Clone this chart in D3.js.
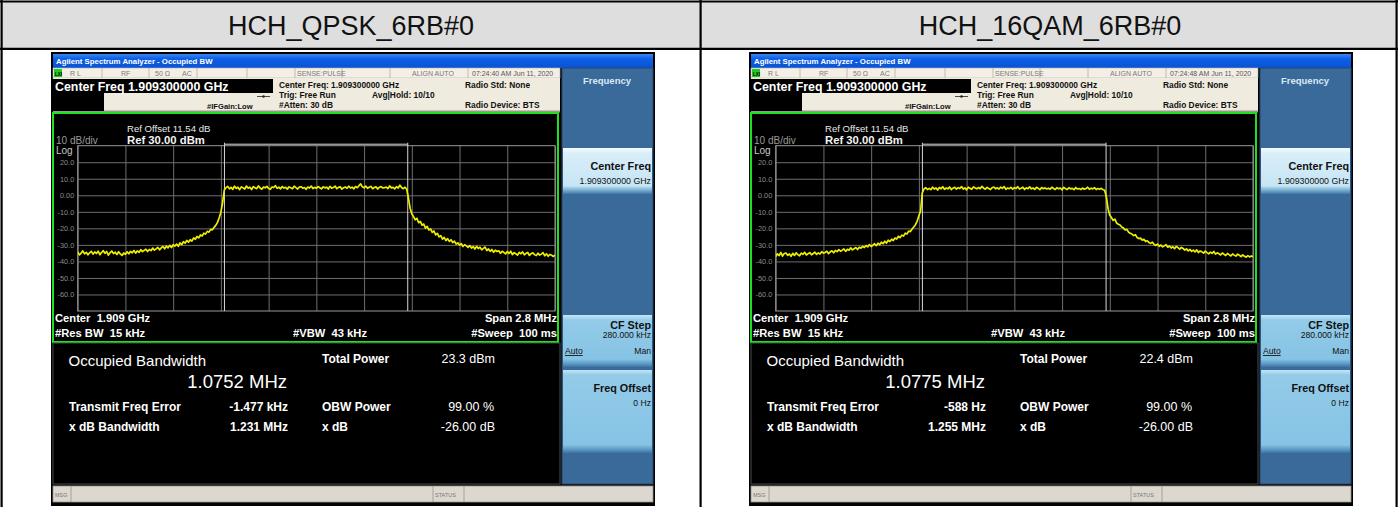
<!DOCTYPE html>
<html><head><meta charset="utf-8">
<script src="https://cdn.jsdelivr.net/npm/d3@7"></script>
<style>
html,body{margin:0;padding:0;background:#fff;overflow:hidden}
svg{display:block;font-family:"Liberation Sans",Arial,Helvetica,sans-serif}
</style></head><body>
<svg id="c" width="1398" height="507"></svg>
<script>
// ---------------- data ----------------
const panelTitles = ["HCH_QPSK_6RB#0", "HCH_16QAM_6RB#0"];
const timestamps = ["07:24:40 AM Jun 11, 2020", "07:24:48 AM Jun 11, 2020"];
const occBWText = ["1.0752 MHz", "1.0775 MHz"];
const occBWMHz = [1.0752, 1.0775];
const totalPowerText = ["23.3 dBm", "22.4 dBm"];
const freqErrorText = ["-1.477 kHz", "-588 Hz"];
const freqErrorMHz = [-0.001477, -0.000588];
const xdBBandwidthText = ["1.231 MHz", "1.255 MHz"];
const obwPowerText = "99.00 %";
const xdBText = "-26.00 dB";
const yTicks = [20, 10, 0, -10, -20, -30, -40, -50, -60];
const yTickLabels = ["20.0", "10.0", "0.00", "-10.0", "-20.0", "-30.0", "-40.0", "-50.0", "-60.0"];
const xGridMHz = [-1.4, -1.12, -0.84, -0.56, -0.28, 0, 0.28, 0.56, 0.84, 1.12, 1.4];
const refLevel = 30, bottomLevel = -70;
const sweepStartMHz = -1.4, sweepStepMHz = 0.01;

// trace levels (dBm) read every 0.01 MHz from -1.40 to +1.40 MHz
const traceQPSK = [
 -34.2,-36.1,-35.0,-33.6,-35.4,-34.5,-36.0,-34.8,-33.9,-35.6,
 -34.3,-35.2,-33.8,-35.9,-34.6,-33.5,-35.1,-34.0,-36.2,-34.7,
 -33.7,-35.3,-34.4,-35.8,-34.1,-35.5,-36.4,-34.9,-35.7,-34.2,
 -35.4,-33.9,-34.8,-33.4,-35.0,-33.6,-34.5,-32.9,-34.1,-33.3,
 -32.6,-34.0,-32.8,-33.5,-31.9,-33.2,-32.4,-31.5,-33.0,-31.8,
 -31.0,-32.4,-30.7,-31.8,-30.3,-31.6,-29.9,-30.8,-29.5,-30.9,
 -28.8,-29.9,-28.1,-29.0,-27.3,-28.4,-26.9,-27.7,-25.8,-26.6,
 -24.9,-25.8,-24.0,-24.6,-22.9,-23.5,-21.8,-22.3,-20.6,-20.9,
 -19.4,-18.2,-16.4,-13.6,-10.2,-4.5,3.2,4.6,5.4,3.9,
 4.8,3.6,5.5,4.2,4.9,3.4,5.1,4.5,3.8,5.6,
 4.3,4.9,3.5,5.2,4.6,4.0,5.7,4.4,3.7,5.0,
 4.5,5.4,4.1,3.6,5.0,4.7,5.8,4.2,4.9,3.9,
 5.3,4.4,4.8,3.7,5.1,4.5,4.0,5.5,4.6,3.8,
 4.9,5.2,4.3,4.7,3.6,5.0,4.4,5.6,4.1,4.8,
 4.2,5.3,4.6,3.9,5.1,4.5,4.9,3.8,5.4,4.3,
 4.7,5.6,4.0,4.8,5.2,3.7,4.6,5.0,4.3,5.5,
 4.4,4.9,3.9,5.3,4.6,5.8,6.9,5.1,4.5,5.6,
 4.2,4.8,5.4,4.0,4.7,5.1,3.8,4.9,5.3,4.4,
 4.6,5.0,4.1,5.7,4.5,4.8,3.9,5.2,4.4,6.1,
 4.7,4.0,4.9,3.6,-1.5,-7.8,-11.2,-12.9,-14.8,-13.9,
 -16.6,-15.8,-18.1,-17.4,-19.9,-18.8,-21.0,-20.3,-22.5,-21.6,
 -23.9,-23.0,-25.2,-24.4,-26.5,-25.5,-27.4,-26.2,-27.9,-26.9,
 -28.6,-27.7,-29.5,-28.8,-30.1,-29.2,-31.0,-29.9,-30.6,-31.5,
 -30.4,-31.9,-31.0,-32.5,-30.9,-32.2,-31.4,-33.0,-32.1,-31.3,
 -33.4,-32.5,-33.9,-32.8,-34.5,-33.2,-34.0,-33.6,-35.1,-33.9,
 -34.6,-35.5,-34.0,-35.2,-33.8,-35.9,-34.7,-35.3,-36.2,-34.5,
 -35.4,-34.2,-36.0,-35.1,-34.6,-36.4,-35.3,-34.8,-35.9,-36.5,
 -35.0,-36.2,-35.6,-34.7,-36.6,-35.4,-36.9,-35.8,-36.3,-37.0,
 -36.2
];
const trace16QAM = [
 -37.0,-35.4,-36.5,-34.6,-36.8,-35.2,-34.9,-36.3,-35.5,-36.9,
 -35.1,-36.4,-34.8,-35.9,-36.6,-35.0,-35.7,-34.5,-36.1,-35.3,
 -34.7,-36.0,-35.2,-34.4,-35.8,-34.9,-35.5,-34.1,-35.0,-34.6,
 -33.9,-35.3,-34.2,-33.6,-34.8,-33.4,-34.1,-32.9,-33.8,-33.2,
 -32.5,-33.9,-32.7,-33.3,-31.8,-33.0,-32.3,-31.6,-32.8,-31.4,
 -32.0,-30.9,-31.6,-30.4,-31.2,-29.8,-31.0,-30.2,-29.3,-30.5,
 -29.0,-29.9,-28.4,-29.3,-27.8,-28.9,-27.2,-28.0,-26.6,-27.4,
 -25.9,-26.5,-24.8,-25.6,-24.1,-24.7,-22.9,-23.4,-21.7,-22.0,
 -20.4,-19.2,-17.8,-15.6,-12.4,-9.5,1.5,3.8,4.6,3.5,
 4.2,3.4,4.9,3.8,4.5,3.2,4.7,4.0,5.2,3.6,
 4.4,3.9,5.0,3.5,4.3,4.8,3.7,4.6,4.1,5.3,
 3.8,4.5,3.3,4.9,4.2,3.6,5.1,4.4,3.9,4.7,
 4.0,5.4,4.3,3.7,4.8,4.1,3.5,4.6,5.0,3.9,
 4.5,3.8,4.9,4.2,5.3,3.6,4.4,4.0,4.8,3.7,
 4.6,4.1,5.2,3.8,4.3,4.9,3.5,4.5,4.0,5.1,
 3.9,4.4,3.6,4.8,4.2,3.4,4.7,4.0,4.5,3.8,
 4.3,3.7,4.9,4.1,3.5,4.6,3.9,4.4,3.3,4.8,
 4.0,3.6,4.5,3.9,4.2,3.4,4.7,3.8,4.1,3.5,
 4.4,3.7,4.0,4.9,3.6,4.3,3.9,4.6,3.5,4.1,
 3.7,4.2,3.4,3.0,-1.0,-8.4,-12.1,-13.6,-15.2,-14.4,
 -16.8,-17.5,-18.0,-19.2,-19.8,-21.0,-20.6,-22.3,-22.9,-23.5,
 -24.4,-23.8,-25.6,-26.2,-25.9,-27.1,-26.6,-28.0,-27.5,-28.6,
 -29.1,-28.4,-29.8,-30.3,-29.5,-30.9,-30.1,-31.2,-30.6,-29.9,
 -31.4,-30.7,-31.9,-31.1,-32.3,-30.9,-31.7,-32.6,-31.5,-32.2,
 -33.1,-32.4,-33.6,-32.7,-33.9,-33.2,-34.3,-33.0,-34.6,-33.7,
 -34.2,-35.0,-33.8,-34.7,-35.4,-34.4,-35.1,-34.0,-35.6,-34.8,
 -35.3,-36.1,-34.9,-35.7,-36.4,-35.2,-35.9,-36.7,-35.5,-36.2,
 -36.8,-35.6,-36.3,-37.1,-36.0,-36.9,-37.4,-36.5,-37.3,-36.7,
 -37.2
];
const traces = [traceQPSK, trace16QAM];

// ---------------- drawing ----------------
const svg = d3.select("#c");
const defs = svg.append("defs");
function grad(id, stops) {
  const gr = defs.append("linearGradient").attr("id", id).attr("x1", 0).attr("y1", 0).attr("x2", 0).attr("y2", 1);
  stops.forEach(s => gr.append("stop").attr("offset", s[0]).attr("stop-color", s[1]));
}
grad("titleGrad", [[0, "#3b86f2"], [0.35, "#0b5fe6"], [1, "#0a52d6"]]);
grad("btnLight", [[0, "#f4fbff"], [0.12, "#d9eef9"], [0.82, "#c6e5f5"], [0.9, "#86b9d8"], [1, "#3f78a5"]]);
grad("btnMid", [[0, "#c4e6f7"], [0.1, "#93cbe9"], [0.85, "#86c3e4"], [0.94, "#5a98c2"], [1, "#3f74a2"]]);
grad("btnMid2", [[0, "#c4e6f7"], [0.06, "#93cbe9"], [0.9, "#86c3e4"], [0.96, "#5a98c2"], [1, "#3f74a2"]]);

function txt(g, x, y, s, size, o = {}) {
  return g.append("text").attr("x", x).attr("y", y).text(s)
    .attr("font-size", size)
    .attr("font-weight", o.weight || "normal")
    .attr("fill", o.fill || "#fff")
    .attr("text-anchor", o.anchor || "start");
}

// table
svg.append("rect").attr("x", 1).attr("y", 1).attr("width", 1396).attr("height", 48).attr("fill", "#dedede");
const tl = (x1, y1, x2, y2) => svg.append("line").attr("x1", x1).attr("y1", y1).attr("x2", x2).attr("y2", y2)
  .attr("stroke", "#000").attr("stroke-width", 2.2);
tl(0, 1.5, 1398, 1.5);
tl(0, 48.8, 1398, 48.8);
tl(1.6, 0, 1.6, 507);
tl(700.6, 0, 700.6, 507);
tl(1396.6, 0, 1396.6, 507);
panelTitles.forEach((t, i) => {
  svg.append("text").attr("x", 351 + i * 699).attr("y", 34.5).attr("text-anchor", "middle")
    .attr("font-size", 27).attr("fill", "#111").text(t);
});

function drawScreen(k, ox, oy) {
  const g = svg.append("g").attr("transform", `translate(${ox},${oy})`);
  g.append("rect").attr("width", 604).attr("height", 454).attr("fill", "#000");
  // title bar
  g.append("rect").attr("x", 2).attr("y", 2).attr("width", 600).attr("height", 14).attr("fill", "url(#titleGrad)");
  txt(g, 5, 12, "Agilent Spectrum Analyzer - Occupied BW", 7.8, {weight: "bold"});
  // status row
  g.append("rect").attr("x", 2).attr("y", 16).attr("width", 507).attr("height", 10).attr("fill", "#f3efe6")
    .attr("stroke", "#b5ada0").attr("stroke-width", 0.6);
  [51, 98, 146, 196, 244, 291, 339, 417].forEach(x => g.append("line").attr("x1", x).attr("x2", x)
    .attr("y1", 16).attr("y2", 26).attr("stroke", "#b5ada0").attr("stroke-width", 0.8));
  g.append("rect").attr("x", 3).attr("y", 17).attr("width", 8).attr("height", 8).attr("fill", "#22cc22");
  txt(g, 4, 23.5, "LXI", 4.5, {fill: "#000", weight: "bold"});
  const st = {fill: "#7a7a7a"};
  txt(g, 19, 24, "R L", 7, st);
  txt(g, 70, 24, "RF", 7, st);
  txt(g, 104, 24, "50 Ω", 7, st);
  txt(g, 131, 24, "AC", 7, st);
  txt(g, 246, 24, "SENSE:PULSE", 7, st);
  txt(g, 361, 24, "ALIGN AUTO", 7, st);
  txt(g, 421, 24, timestamps[k], 7, {fill: "#555"});
  // info rows
  g.append("rect").attr("x", 2).attr("y", 26).attr("width", 507).attr("height", 34).attr("fill", "#efebdf");
  g.append("rect").attr("x", 2).attr("y", 58.5).attr("width", 507).attr("height", 2).attr("fill", "#9c968c");
  g.append("rect").attr("x", 2).attr("y", 27).attr("width", 220).attr("height", 14).attr("fill", "#000");
  txt(g, 4, 39, "Center Freq 1.909300000 GHz", 12.4, {weight: "bold"});
  g.append("rect").attr("x", 2).attr("y", 41).attr("width", 51).attr("height", 18).attr("fill", "#000");
  const inf = {fill: "#111", weight: "bold"};
  txt(g, 228, 35.5, "Center Freq: 1.909300000 GHz", 8.4, inf);
  txt(g, 228, 45.5, "Trig: Free Run", 8.4, inf);
  txt(g, 228, 55.5, "#Atten: 30 dB", 8.4, inf);
  txt(g, 321, 45.5, "Avg|Hold: 10/10", 8.4, inf);
  txt(g, 414, 35.5, "Radio Std: None", 8.4, inf);
  txt(g, 414, 55.5, "Radio Device: BTS", 8.4, inf);
  txt(g, 156, 57, "#IFGain:Low", 7.6, inf);
  g.append("line").attr("x1", 206).attr("x2", 219).attr("y1", 44.5).attr("y2", 44.5).attr("stroke", "#222").attr("stroke-width", 0.8);
  g.append("circle").attr("cx", 212.5).attr("cy", 44.5).attr("r", 1.3).attr("fill", "#222");

  // graph area
  g.append("rect").attr("x", 2).attr("y", 61).attr("width", 505).attr("height", 229)
    .attr("fill", "#000").attr("stroke", "#1fe01f").attr("stroke-width", 2);
  const gx0 = 26.7, gx1 = 504, gy0 = 93.7, gy1 = 259;
  const x = d3.scaleLinear().domain([xGridMHz[0], xGridMHz[xGridMHz.length - 1]]).range([gx0, gx1]);
  const y = d3.scaleLinear().domain([bottomLevel, refLevel]).range([gy1, gy0]);

  const yAx = g.append("g").attr("transform", `translate(${gx0},0)`)
    .call(d3.axisLeft(y).tickValues(yTicks).tickFormat((d, i) => yTickLabels[i]).tickSize(-(gx1 - gx0)).tickPadding(3.5));
  yAx.select(".domain").remove();
  yAx.selectAll("line").attr("stroke", "#6e6e6e").attr("stroke-width", 1);
  yAx.selectAll("text").attr("fill", "#8c8c8c").attr("font-size", 7.3)
    .attr("font-family", '"Liberation Sans",Arial,sans-serif');
  const xAx = g.append("g").attr("transform", `translate(0,${gy1})`)
    .call(d3.axisBottom(x).tickValues(xGridMHz).tickSize(-(gy1 - gy0)).tickFormat(""));
  xAx.select(".domain").remove();
  xAx.selectAll("line").attr("stroke", "#6e6e6e").attr("stroke-width", 1);
  g.append("rect").attr("x", gx0).attr("y", gy0).attr("width", gx1 - gx0).attr("height", gy1 - gy0)
    .attr("fill", "none").attr("stroke", "#9a9a9a").attr("stroke-width", 1);

  txt(g, 5, 92, "10 dB/div", 10, {fill: "#9a9a9a"});
  txt(g, 5, 101.5, "Log", 10, {fill: "#c8c8c8"});
  txt(g, 76, 79.5, "Ref Offset 11.54 dB", 9.6, {fill: "#e8e8e8"});
  txt(g, 76, 91.5, "Ref 30.00 dBm", 11.3, {weight: "bold", fill: "#f4f4f4"});

  // OBW markers
  const fc = freqErrorMHz[k];
  const fL = fc - occBWMHz[k] / 2, fR = fc + occBWMHz[k] / 2;
  const mk = g.append("g").attr("stroke", "#d8d8d8").attr("stroke-width", 1).attr("fill", "none");
  mk.append("path").attr("d", `M${x(fL)},${gy1}V${gy0 - 1.5}H${x(fR)}V${gy1}`);
  mk.append("path").attr("d", `M${x(fL)},${gy0 - 1.5}v-1.5M${x(fR)},${gy0 - 1.5}v-1.5`);

  // trace
  const clipId = "clip" + k;
  defs.append("clipPath").attr("id", clipId).append("rect")
    .attr("x", gx0).attr("y", gy0).attr("width", gx1 - gx0).attr("height", gy1 - gy0);
  const line = d3.line().x((d, i) => x(sweepStartMHz + i * sweepStepMHz)).y(d => y(d));
  g.append("path").datum(traces[k]).attr("d", line).attr("clip-path", `url(#${clipId})`)
    .attr("fill", "none").attr("stroke", "#eeee00").attr("stroke-width", 1.7).attr("stroke-linejoin", "round");

  // footer of graph
  const fb = {weight: "bold"};
  txt(g, 4, 269.5, "Center\u00a0 1.909 GHz", 11.2, fb);
  txt(g, 4, 285, "#Res BW\u00a0 15 kHz", 11.2, fb);
  txt(g, 242, 285, "#VBW\u00a0 43 kHz", 11.2, fb);
  txt(g, 506, 269.5, "Span 2.8 MHz", 11.2, {weight: "bold", anchor: "end"});
  txt(g, 506, 285, "#Sweep\u00a0 100 ms", 11.2, {weight: "bold", anchor: "end"});

  // results
  g.append("rect").attr("x", 2).attr("y", 291).attr("width", 507).attr("height", 141)
    .attr("fill", "#000").attr("stroke", "#4a4a4a").attr("stroke-width", 1);
  txt(g, 17.5, 313.5, "Occupied Bandwidth", 15);
  txt(g, 236, 335.5, occBWText[k], 18.5, {anchor: "end"});
  txt(g, 18, 359, "Transmit Freq Error", 12, fb);
  txt(g, 18, 379, "x dB Bandwidth", 12, fb);
  txt(g, 237, 359, freqErrorText[k], 12, {weight: "bold", anchor: "end"});
  txt(g, 237, 379, xdBBandwidthText[k], 12, {weight: "bold", anchor: "end"});
  txt(g, 271, 310.5, "Total Power", 12, fb);
  txt(g, 271, 359, "OBW Power", 12, fb);
  txt(g, 271, 379, "x dB", 12, fb);
  txt(g, 444, 310.5, totalPowerText[k], 12.5, {anchor: "end"});
  txt(g, 443, 359, obwPowerText, 12.5, {anchor: "end"});
  txt(g, 444, 379, xdBText, 12.5, {anchor: "end"});

  // softkey panel
  g.append("rect").attr("x", 511).attr("y", 16).attr("width", 91).attr("height", 416).attr("fill", "#3a6a99")
    .attr("stroke", "#25496e").attr("stroke-width", 1);
  txt(g, 556, 32, "Frequency", 9.5, {weight: "bold", fill: "#dbe9f5", anchor: "middle"});
  g.append("rect").attr("x", 512).attr("y", 96).attr("width", 89).attr("height", 46).attr("fill", "url(#btnLight)");
  txt(g, 600, 117.5, "Center Freq", 10.8, {weight: "bold", fill: "#111", anchor: "end"});
  txt(g, 600, 131.5, "1.909300000 GHz", 8.8, {fill: "#111", anchor: "end"});
  g.append("rect").attr("x", 512).attr("y", 263).attr("width", 89).attr("height", 52).attr("fill", "url(#btnMid)");
  txt(g, 600, 277, "CF Step", 10.8, {weight: "bold", fill: "#111", anchor: "end"});
  txt(g, 600, 286, "280.000 kHz", 8.6, {fill: "#111", anchor: "end"});
  txt(g, 514, 302, "Auto", 8.6, {fill: "#111"}).attr("text-decoration", "underline");
  txt(g, 600, 302, "Man", 8.6, {fill: "#111", anchor: "end"});
  g.append("rect").attr("x", 512).attr("y", 318).attr("width", 89).attr("height", 83).attr("fill", "url(#btnMid2)");
  txt(g, 600, 340, "Freq Offset", 10.8, {weight: "bold", fill: "#111", anchor: "end"});
  txt(g, 600, 354, "0 Hz", 8.6, {fill: "#111", anchor: "end"});

  // msg bar
  g.append("rect").attr("x", 2).attr("y", 434).attr("width", 600).attr("height", 16).attr("fill", "#dcd8d0")
    .attr("stroke", "#9a958c").attr("stroke-width", 0.8);
  [20, 382, 413].forEach(xx => g.append("line").attr("x1", xx).attr("x2", xx).attr("y1", 434).attr("y2", 450)
    .attr("stroke", "#9a958c").attr("stroke-width", 0.8));
  txt(g, 4, 444.5, "MSG", 5.5, {fill: "#777"});
  txt(g, 384, 444.5, "STATUS", 5.5, {fill: "#777"});
}

drawScreen(0, 51, 52);
drawScreen(1, 749, 52);
</script></body></html>
